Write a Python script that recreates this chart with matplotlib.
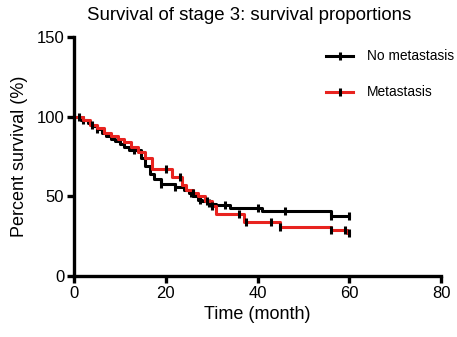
import numpy as np
import matplotlib.pyplot as plt

plt.rcParams['font.family'] = ['Liberation Sans', 'DejaVu Sans']

# Kaplan-Meier steps: event times (month) and survival (%) after each step
no_met_t = [0, 1.5, 3, 4, 5, 6, 7, 8, 9, 10, 11, 12, 14.5, 15.5, 16.5, 17.5,
            19, 22, 24, 25, 26, 27, 28, 29, 30, 31, 34, 41, 56]
no_met_s = [100, 98, 96, 94, 92, 90, 88, 86, 85, 83, 81, 79, 74, 69, 64, 61,
            58, 56, 54, 52, 50, 48, 47, 46, 45, 44.6, 42.7, 40.5, 37.7]
no_met_cens = [2, 5, 13, 19, 22, 25.5, 27.5, 29.5, 33, 40, 46, 56, 60]

met_t = [0, 2, 3.5, 5, 6.5, 8, 9.5, 11, 12.5, 14, 15.5, 17, 21.3, 23.5,
         24.5, 26, 27, 28.5, 30, 31, 37, 45, 56, 59.5]
met_s = [100, 98, 95, 93, 90, 88, 86, 84, 81, 78, 74, 67, 62, 57,
         54, 52, 50, 47, 44, 39, 34, 31, 29, 27]
met_cens = [1, 4, 20, 23, 26, 29, 30, 36, 37.5, 43, 45, 56, 59, 60]

end_time = 60


def surv_at(times, surv, x):
    idx = np.searchsorted(times, x, side='right') - 1
    return np.array(surv)[idx]


fig = plt.figure(figsize=(4.57, 3.37), dpi=100)
ax = fig.add_axes([0.162, 0.181, 0.803, 0.709])

groups = [
    ("No metastasis", no_met_t, no_met_s, no_met_cens, "black"),
    ("Metastasis", met_t, met_s, met_cens, "#e8231f"),
]
for label, t, s, cens, col in groups:
    tt = list(t) + [end_time]
    ss = list(s) + [s[-1]]
    ax.step(tt, ss, where='post', color=col, lw=2.2)
    ax.plot(cens, surv_at(t, s, cens), ls='none', marker='|', ms=6, mew=2.2,
            color='black')
    # legend entry: coloured line with a black tick
    ax.plot([], [], color=col, lw=2.2, marker='|', ms=6, mew=2.2,
            mec='black', label=label)

ax.set_xlim(0, 80)
ax.set_ylim(0, 150)
ax.set_xticks([0, 20, 40, 60, 80])
ax.set_yticks([0, 50, 100, 150])
for sp in ['top', 'right']:
    ax.spines[sp].set_visible(False)
for sp in ['left', 'bottom']:
    ax.spines[sp].set_linewidth(2.4)
ax.tick_params(width=2.4, length=5, labelsize=12, pad=2)

ax.set_title("Survival of stage 3: survival proportions", fontsize=13.4,
             pad=12, x=0.478)
ax.set_xlabel("Time (month)", fontsize=13, labelpad=4)
ax.set_ylabel("Percent survival (%)", fontsize=13, labelpad=6)

ax.legend(loc='upper right', bbox_to_anchor=(1.07, 1.0), frameon=False,
          fontsize=9.9, handlelength=2.0, handletextpad=1.0,
          labelspacing=1.6)

fig.savefig("out.png", dpi=100)
